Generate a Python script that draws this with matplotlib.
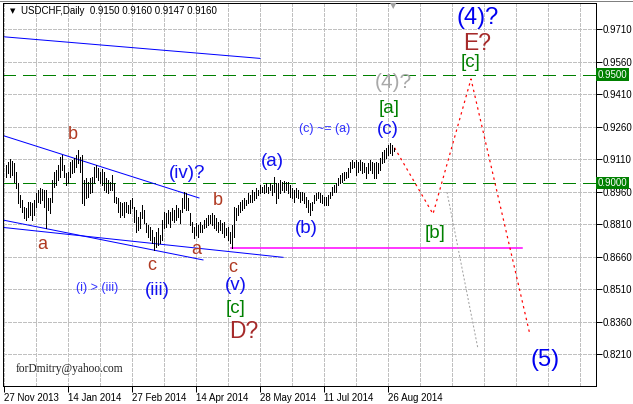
import numpy as np
import matplotlib.pyplot as plt
from matplotlib.transforms import ScaledTranslation

plt.rcParams["font.family"] = ["Liberation Sans", "DejaVu Sans"]

# daily bars (high / low), 27 Nov 2013 .. end of Aug 2014
highs = [
    0.9083, 0.9098, 0.9109, 0.9103, 0.9091, 0.9052, 0.8998, 0.8945, 0.8922, 0.8891,
    0.8883, 0.8914, 0.8914, 0.8906, 0.8922, 0.8952, 0.8968, 0.8975, 0.8971, 0.8968,
    0.8968, 0.8929, 0.8929, 0.9014, 0.9052, 0.9060, 0.9083, 0.9122, 0.9129, 0.9083,
    0.9045, 0.9052, 0.9098, 0.9106, 0.9114, 0.9129, 0.9152, 0.9122, 0.9129, 0.9014,
    0.9022, 0.9006, 0.9022, 0.9029, 0.9075, 0.9083, 0.9068, 0.9052,
    0.9063, 0.9052, 0.9022, 0.9014, 0.9006, 0.9037, 0.8998, 0.8937, 0.8929, 0.8914,
    0.8906, 0.8914, 0.8914, 0.8898, 0.8922, 0.8929, 0.8891, 0.8875, 0.8845, 0.8868,
    0.8898, 0.8875, 0.8814, 0.8806, 0.8798, 0.8783, 0.8752, 0.8775, 0.8791, 0.8760,
    0.8829, 0.8868, 0.8860, 0.8875, 0.8868, 0.8883, 0.8875, 0.8898, 0.8883, 0.8875,
    0.8929, 0.8960, 0.8952, 0.8929, 0.8860, 0.8822, 0.8798, 0.8814, 0.8806,
    0.8822, 0.8806, 0.8829, 0.8837, 0.8852, 0.8852, 0.8860, 0.8852, 0.8837, 0.8822,
    0.8829, 0.8814, 0.8822, 0.8791, 0.8798, 0.8775, 0.8806, 0.8891, 0.8883, 0.8898,
    0.8914, 0.8922, 0.8929, 0.8922, 0.8952, 0.8945, 0.8968, 0.8960, 0.8975, 0.8968,
    0.8991, 0.8983, 0.8991, 0.8998, 0.8983, 0.8998, 0.8991, 0.9029, 0.8998, 0.8998,
    0.9014, 0.9006, 0.9011, 0.9006, 0.9006, 0.8991, 0.8975, 0.8968, 0.8975,
    0.8968, 0.8960, 0.8960, 0.8952, 0.8937, 0.8922, 0.8906, 0.8914, 0.8945, 0.8952,
    0.8960, 0.8952, 0.8945, 0.8937, 0.8937, 0.8945, 0.8960, 0.8983, 0.8991, 0.8998,
    0.9022, 0.9037, 0.9045, 0.9052, 0.9052, 0.9068, 0.9098, 0.9106, 0.9098, 0.9106,
    0.9098, 0.9106, 0.9098, 0.9091, 0.9075, 0.9091, 0.9106, 0.9098, 0.9091, 0.9098,
    0.9091, 0.9114, 0.9145, 0.9152, 0.9160, 0.9175, 0.9183, 0.9175, 0.9160,
]
lows = [
    0.9029, 0.9045, 0.9029, 0.9037, 0.9006, 0.8975, 0.8906, 0.8891, 0.8868, 0.8837,
    0.8829, 0.8845, 0.8852, 0.8829, 0.8852, 0.8891, 0.8914, 0.8906, 0.8922, 0.8891,
    0.8791, 0.8875, 0.8860, 0.8914, 0.8983, 0.8991, 0.9014, 0.9029, 0.9060, 0.9029,
    0.8991, 0.8998, 0.9029, 0.9045, 0.9052, 0.9075, 0.9091, 0.9052, 0.8906, 0.8898,
    0.8929, 0.8937, 0.8952, 0.8960, 0.8998, 0.9029, 0.9014, 0.8998,
    0.8991, 0.8968, 0.8960, 0.8952, 0.8968, 0.8968, 0.8914, 0.8906, 0.8868, 0.8845,
    0.8852, 0.8845, 0.8868, 0.8860, 0.8860, 0.8883, 0.8822, 0.8775, 0.8783, 0.8791,
    0.8837, 0.8814, 0.8775, 0.8752, 0.8737, 0.8722, 0.8691, 0.8706, 0.8714, 0.8722,
    0.8737, 0.8791, 0.8798, 0.8814, 0.8798, 0.8829, 0.8822, 0.8829, 0.8845, 0.8814,
    0.8868, 0.8883, 0.8875, 0.8875, 0.8806, 0.8775, 0.8745, 0.8760, 0.8752,
    0.8775, 0.8775, 0.8791, 0.8798, 0.8806, 0.8814, 0.8806, 0.8791, 0.8783, 0.8775,
    0.8783, 0.8768, 0.8752, 0.8760, 0.8737, 0.8722, 0.8699, 0.8752, 0.8829, 0.8852,
    0.8868, 0.8875, 0.8883, 0.8898, 0.8906, 0.8914, 0.8914, 0.8922, 0.8929, 0.8945,
    0.8952, 0.8960, 0.8952, 0.8960, 0.8952, 0.8968, 0.8945, 0.8960, 0.8906, 0.8929,
    0.8952, 0.8968, 0.8960, 0.8968, 0.8952, 0.8937, 0.8929, 0.8914, 0.8937,
    0.8929, 0.8914, 0.8922, 0.8906, 0.8891, 0.8868, 0.8852, 0.8875, 0.8906, 0.8922,
    0.8929, 0.8914, 0.8906, 0.8898, 0.8898, 0.8898, 0.8929, 0.8945, 0.8960, 0.8960,
    0.8991, 0.8998, 0.9006, 0.9014, 0.9022, 0.9029, 0.9052, 0.9068, 0.9075, 0.9037,
    0.9052, 0.9060, 0.9045, 0.9052, 0.9022, 0.9045, 0.9060, 0.9045, 0.9022, 0.9022,
    0.9045, 0.9060, 0.9091, 0.9098, 0.9114, 0.9129, 0.9137, 0.9129, 0.9147,
]

date_labels = ["27 Nov 2013", "14 Jan 2014", "27 Feb 2014", "14 Apr 2014",
               "28 May 2014", "11 Jul 2014", "26 Aug 2014"]
date_pos = [0, 32, 64, 96, 128, 160, 192]
price_ticks = [0.8210, 0.8360, 0.8510, 0.8660, 0.8810, 0.8960,
               0.9110, 0.9260, 0.9410, 0.9560, 0.9710]
levels = [0.9500, 0.9000]

# forecast paths (bar index, price)
red_x = [195.5, 214.75, 233.75, 263.25]
red_y = [0.9163, 0.8857, 0.9480, 0.8299]
gray_x = [221.75, 237.25]
gray_y = [0.8958, 0.8234]

# trend lines: (x0, x1), (y0, y1)
blue_lines = [
    ((-0.25, 128.25), (0.9675, 0.9575)),
    ((-0.25, 97.75), (0.9219, 0.8931)),
    ((-0.25, 99.75), (0.8829, 0.8645)),
    ((-0.25, 139.75), (0.8795, 0.8657)),
]
support_x = (113.75, 259.25)
support_y = 0.8699

# wave labels: text, bar index, price, kind
wave_labels = [
    ("b", 34.5, 0.9226, "minor"), ("a", 19.25, 0.8714, "minor"),
    ("(iv)?", 91.75, 0.9042, "blue"), ("b", 107.25, 0.8917, "minor"),
    ("a", 96.25, 0.8691, "minor"), ("c", 74.25, 0.8617, "minor"),
    ("c", 114.75, 0.8612, "minor"), ("(i) > (iii)", 46.75, 0.8515, "note"),
    ("(iii)", 76.75, 0.8506, "blue"), ("(v)", 116.25, 0.8525, "blue"),
    ("[c]", 116.25, 0.8423, "green"), ("D?", 120.25, 0.8317, "big_brown"),
    ("(a)", 134.25, 0.9097, "blue"), ("(b)", 151.25, 0.8788, "blue"),
    ("(c) ~= (a)", 160.75, 0.9249, "note"), ("(c)", 192.25, 0.9249, "blue"),
    ("[a]", 192.75, 0.9346, "green"), ("(4)?", 194.75, 0.9466, "gray"),
    ("(4)?", 237.25, 0.9761, "big_blue"), ("E?", 236.75, 0.9646, "big_brown"),
    ("[c]", 233.75, 0.9558, "green"), ("[b]", 215.75, 0.8769, "green"),
    ("(5)", 270.75, 0.8183, "big_blue"),
]
styles = {
    "minor": dict(color="#B03A22", fontsize=13),
    "blue": dict(color="#1010F0", fontsize=13.5),
    "note": dict(color="#3030FF", fontsize=9),
    "green": dict(color="#008000", fontsize=13.5),
    "gray": dict(color="#A9A9A9", fontsize=15),
    "big_blue": dict(color="#0000F0", fontsize=17),
    "big_brown": dict(color="#A52A2A", fontsize=16.5),
}

W, H = 633, 404
fig = plt.figure(figsize=(W / 100, H / 100), dpi=100)
ax = fig.add_axes([3 / W, 1 - 386 / H, 593 / W, 383 / H])
px = 0.72  # one pixel in points

ax.set_xlim(-0.25, 296.25)
ax.set_ylim(0.80632, 0.98306)

# grid
for v in np.arange(0, 296, 16):
    ax.axvline(v, color="#C0C0C0", lw=px, ls=(0, (3, 2)), zorder=0, antialiased=False)
for p in price_ticks:
    ax.axhline(p, color="#C0C0C0", lw=px, ls=(0, (3, 2)), zorder=0, antialiased=False)

# key levels
for lv in levels:
    ax.axhline(lv, color="#008000", lw=px, ls=(0, (13, 7)), zorder=1, antialiased=False)
    ax.text(1.003, lv, f"{lv:.4f}", transform=ax.get_yaxis_transform(),
            ha="left", va="center", fontsize=7, color="white",
            bbox=dict(boxstyle="square,pad=0.15", fc="#008000", ec="none"))

# price bars
idx = np.arange(1, len(highs) + 1)
ax.vlines(idx, lows, highs, color="black", lw=px, zorder=3, antialiased=False)

# trend lines
for xs, ys in blue_lines:
    ax.plot(xs, ys, color="#0000FF", lw=px, zorder=2)
ax.plot(support_x, [support_y, support_y], color="#FF00FF", lw=1.1, zorder=2)

# forecast
ax.plot(gray_x, gray_y, color="#A0A0A0", lw=px, ls=(0, (2, 2)), zorder=2)
ax.plot(red_x, red_y, color="#FF0000", lw=px * 1.2, ls=(0, (2, 3)), zorder=2)

for txt, x, y, kind in wave_labels:
    ax.text(x, y, txt, ha="center", va="center", zorder=4, **styles[kind])

ax.text(13 / 593, 1 - (369 - 3) / 383, "forDmitry@yahoo.com", transform=ax.transAxes,
        ha="left", va="center", fontsize=8.3, family="Liberation Serif", color="#202020")

# header
ax.text(7 / 593, 1 - 8 / 383, "\u25BC", transform=ax.transAxes, ha="left",
        va="center", fontsize=5, family="DejaVu Sans")
ax.text(18 / 593, 1 - 8 / 383, "USDCHF,Daily  0.9150 0.9160 0.9147 0.9160",
        transform=ax.transAxes, ha="left", va="center", fontsize=7)
ax.text(194.75, 1 - 3 / 383, "\u25BC", transform=ax.get_xaxis_transform(),
        ha="center", va="center", fontsize=6, color="#A0A0A0", family="DejaVu Sans")

# axes
ax.yaxis.tick_right()
ax.set_yticks(price_ticks, [f"{p:.4f}" for p in price_ticks])
ax.set_xticks(date_pos, date_labels)
ax.tick_params(axis="y", direction="out", length=4, width=px, pad=1, labelsize=7)
ax.tick_params(axis="x", direction="out", length=4, width=px, pad=1, labelsize=7)
shift = ScaledTranslation(1 / 100, 0, fig.dpi_scale_trans)
for lbl in ax.get_xticklabels():
    lbl.set_ha("left")
    lbl.set_transform(lbl.get_transform() + shift)
for s in ax.spines.values():
    s.set_linewidth(px)

fig.add_artist(plt.Line2D([0, 1], [1 - 0.5 / H, 1 - 0.5 / H], color="#808080", lw=px))

fig.savefig("out.png", dpi=100)
